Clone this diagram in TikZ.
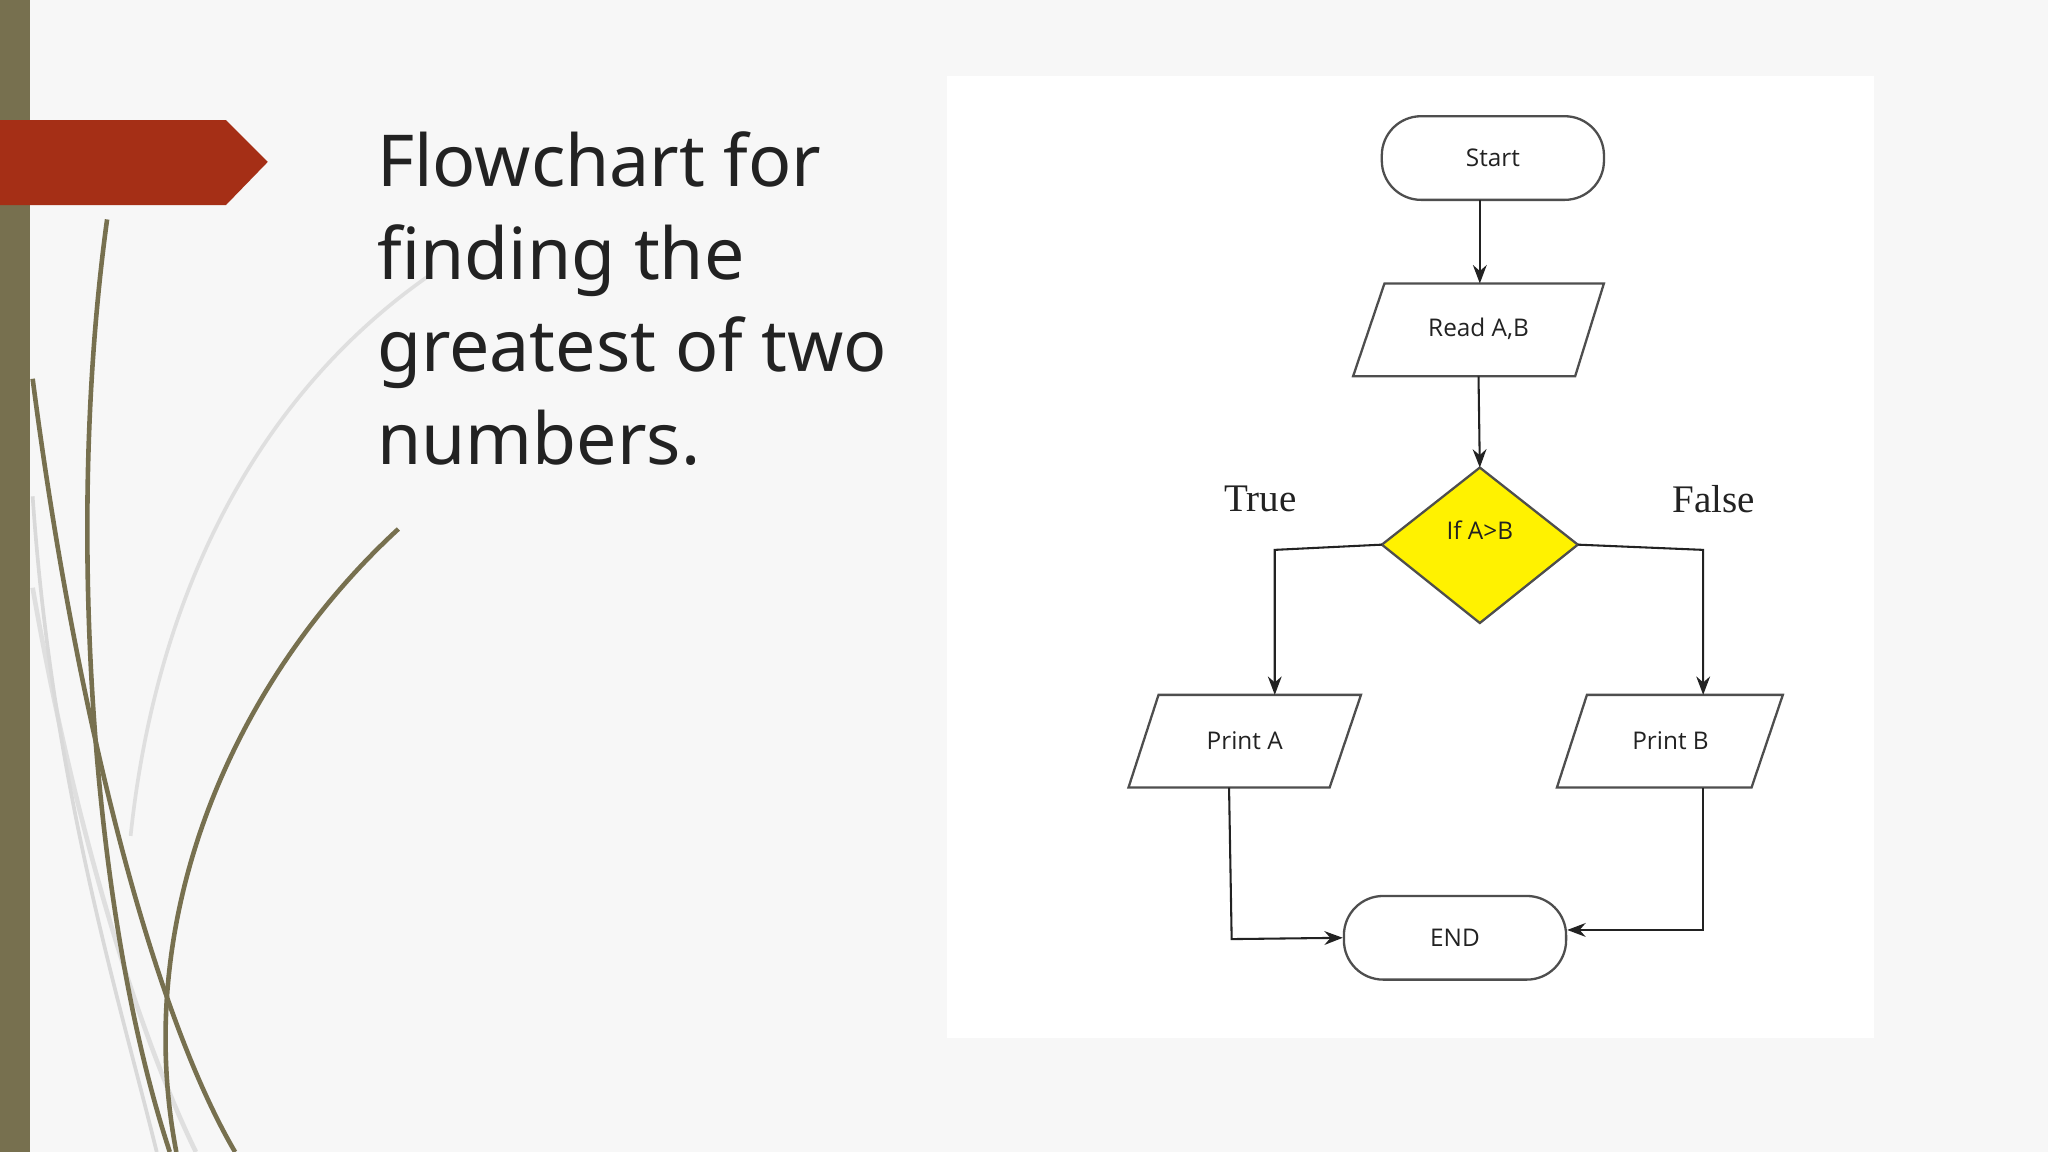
\documentclass[tikz,border=0pt]{standalone}
\usepackage{fontspec}
\setmainfont{Noto Sans}
\newfontfamily\serifl{Liberation Serif}
\newfontfamily\cond{Open Sans}
\usetikzlibrary{shapes.geometric,arrows.meta}
\definecolor{olive}{HTML}{77704F}
\definecolor{rust}{HTML}{A52F16}
\definecolor{ink}{HTML}{222222}
\tikzset{
  shp/.style={draw=ink!80, line width=0.5pt},
  lbl/.style={font=\cond\fontsize{5.3}{6}\selectfont, text=ink, inner sep=0pt},
  conn/.style={draw=ink, line width=0.45pt, -{Stealth[length=4pt,width=3pt]}},
  term/.style={shp, rounded corners=0.3cm, minimum width=1.7cm, minimum height=0.64cm, lbl},
  ghost/.style={lbl, minimum width=1.4cm, minimum height=0.71cm}
}
\begin{document}
\begin{tikzpicture}[x=0.01cm,y=-0.01cm]
\useasboundingbox (0,0) rectangle (1568,882);
\fill[gray!6] (0,0) rectangle (1568,882);
\fill[white] (725,58) rectangle (1435,795);
% left decoration
\fill[olive] (0,0) rectangle (23,882);
\fill[rust] (0,92) -- (173,92) -- (205,124) -- (173,157) -- (0,157) -- cycle;
\draw[gray!25, line width=1pt] (25,450) .. controls (60,650) and (110,800) .. (150,882);
\draw[gray!25, line width=0.8pt] (100,640) .. controls (120,450) and (200,300) .. (330,210);
\draw[olive, line width=1pt] (82,168) .. controls (50,400) and (70,700) .. (130,882);
\draw[olive, line width=1pt] (25,290) .. controls (60,560) and (120,780) .. (180,882);
\draw[olive, line width=1pt] (305,405) .. controls (180,520) and (100,700) .. (135,882);
\draw[gray!30, line width=0.8pt] (25,380) .. controls (40,600) and (90,760) .. (120,882);
% title
\node[anchor=north west, align=left, text=ink, font=\fontsize{15.6}{20.2}\selectfont, inner sep=0pt] (title) at (288,100)
  {Flowchart for\\finding the\\greatest of two\\numbers.};
% shapes
\node[term] (start) at (1143,121) {Start};
\coordinate (startB) at (1133,153);
\draw[shp] (1060,217) -- (1228,217) -- (1206,288) -- (1036,288) -- cycle;
\node[ghost] (read) at (1132,252) {Read A,B};
\coordinate (readT) at (1133,217);
\draw[shp, fill=yellow] (1133,358) -- (1208,417) -- (1133,477) -- (1058,417) -- cycle;
\node[lbl] (dec) at (1133,406) {If A>B};
\coordinate (decL) at (1058,417);
\coordinate (decR) at (1208,417);
\coordinate (decT) at (1133,358);
\draw[shp] (887,532) -- (1042,532) -- (1018,603) -- (864,603) -- cycle;
\node[ghost] (pa) at (953,567) {Print A};
\draw[shp] (1215,532) -- (1365,532) -- (1341,603) -- (1192,603) -- cycle;
\node[ghost] (pb) at (1279,567) {Print B};
\node[term] (end) at (1114,718) {END};
\node[font=\serifl\fontsize{8.5}{10}\selectfont, text=ink] (t) at (965,382) {True};
\node[font=\serifl\fontsize{8.5}{10}\selectfont, text=ink] (f) at (1312,382) {False};
% connectors
\draw[conn] (startB) -- (readT);
\draw[conn] (read.south) -- (decT);
\coordinate (a1) at (976,421); \coordinate (a2) at (976,532);
\draw[conn] (decL) -- (a1) -- (a2);
\coordinate (b1) at (1304,421); \coordinate (b2) at (1304,532);
\draw[conn] (decR) -- (b1) -- (b2);
\coordinate (c0) at (941,603); \coordinate (c1) at (943,719);
\draw[conn] (c0) -- (c1) -- (end.west);
\coordinate (d0) at (1304,603); \coordinate (d1) at (1304,712);
\draw[conn] (d0) -- (d1) -- (end.east |- d1);
\end{tikzpicture}
\end{document}
